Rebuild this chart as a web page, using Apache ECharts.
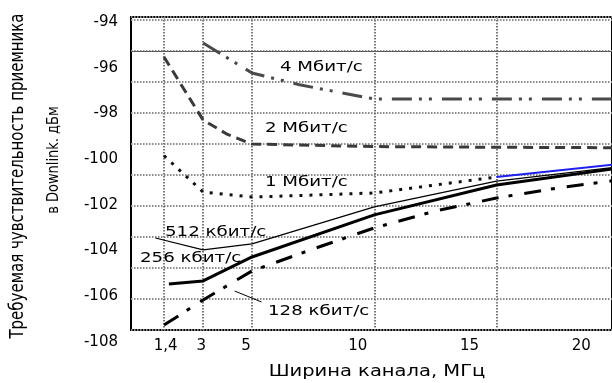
<!DOCTYPE html>
<html>
<head>
<meta charset="utf-8">
<script src="https://cdn.jsdelivr.net/npm/echarts@6/dist/echarts.min.js"></script>
<style>html,body{margin:0;padding:0;background:#fff}#c{width:612px;height:383px}</style>
</head>
<body>
<div id="c"></div>
<script>
// ---- data (bandwidth, MHz  /  required sensitivity, dBm) ----
const bw4Mbit = [3, 5, 7, 10, 15, 20];
const sens4Mbit = [-94.92, -96.23, -96.76, -97.37, -97.37, -97.37];

const bw2Mbit = [1.4, 3, 4, 5, 10, 15, 20];
const sens2Mbit = [-95.53, -98.29, -98.92, -99.34, -99.45, -99.48, -99.5];

const bw1Mbit = [1.4, 3, 5, 10, 15];
const sens1Mbit = [-99.85, -101.44, -101.66, -101.48, -100.78];
const bw1MbitTail = [15, 20];
const sens1MbitTail = [-100.78, -100.21];

const bw512 = [1.05, 3, 5, 10, 15, 20];
const sens512 = [-103.45, -103.97, -103.71, -102.09, -100.96, -100.34];

const bw256 = [1.6, 3, 5, 10, 15, 20];
const sens256 = [-105.46, -105.33, -104.28, -102.44, -101.13, -100.39];

const bw128 = [1.4, 3, 5, 7.5, 10, 12.5, 15, 17.5, 20];
const sens128 = [-107.26, -106.16, -104.89, -103.93, -103.01, -102.27, -101.7, -101.26, -100.91];

const leader128X = [4.29, 5.39];
const leader128Y = [-105.77, -106.25];

const gridBandwidths = [1.4, 3, 5, 10, 15];
const xTickValues = [1.4, 3, 5, 10, 15, 20];
const yTickMin = -108, yTickMax = -94, yTickStep = 2;

const curveLabels = ['4 Мбит/с', '2 Мбит/с', '1 Мбит/с', '512 кбит/с', '256 кбит/с', '128 кбит/с'];
const yTitle1 = 'Требуемая чувствительность приемника';
const yTitle2 = 'в Downlink. дБм';
const xTitle = 'Ширина канала, МГц';

const zip = (xs, ys) => xs.map((x, i) => [x, ys[i]]);

const FONT = '"DejaVu Sans", Verdana, sans-serif';
const chart = echarts.init(document.getElementById('c'), null, {renderer: 'canvas'});

function lineSeries(name, xs, ys, style, z) {
  return {
    name, type: 'line', xAxisIndex: 2, yAxisIndex: 1,
    data: zip(xs, ys), symbol: 'none', smooth: false, silent: true, z: z || 5,
    lineStyle: Object.assign({cap: 'butt'}, style), animation: false
  };
}

const textEl = (text, x, y, size, sx) => ({
  type: 'text', x, y, scaleX: sx, silent: true, z: 100,
  style: {text, font: size + 'px ' + FONT, fill: '#000', align: 'left', verticalAlign: 'middle'}
});

chart.setOption({
  animation: false,
  backgroundColor: '#fff',
  grid: [
    {left: 131, right: -2, top: 17, height: 313, show: true, borderColor: '#000', borderWidth: 2, backgroundColor: 'transparent'},
    {left: 131, right: -2, top: 22, height: 320, show: false}
  ],
  xAxis: [
    { // vertical grid lines (data scale)
      gridIndex: 0, type: 'value', min: 0.05, max: 19.724,
      axisLine: {show: false}, axisLabel: {show: false},
      axisTick: {show: false, customValues: gridBandwidths},
      splitLine: {show: true, lineStyle: {color: '#7a7a7a', width: 2, type: [1.5, 1.5]}}
    },
    { // tick labels as printed
      gridIndex: 0, type: 'value', position: 'bottom', min: -0.147, max: 21.37,
      axisLine: {show: false}, axisTick: {show: false}, splitLine: {show: false},
      axisLabel: {show: true, customValues: xTickValues, margin: 9, color: '#000',
        fontFamily: FONT, fontSize: 15,
        formatter: v => String(v).replace('.', ',')}
    },
    { // data axis
      gridIndex: 1, type: 'value', min: 0.05, max: 19.724, show: false
    }
  ],
  yAxis: [
    { // horizontal grid lines
      gridIndex: 0, type: 'value', min: 0, max: 10.1, interval: 1,
      axisLine: {show: false}, axisLabel: {show: false}, axisTick: {show: false},
      splitLine: {show: true, lineStyle: {color: '#8a8a8a', width: 2, type: [1.5, 1.5]}}
    },
    { // sensitivity scale with labels
      gridIndex: 1, type: 'value', min: yTickMin, max: yTickMax, interval: yTickStep,
      axisLine: {show: false}, axisTick: {show: false}, splitLine: {show: false},
      axisLabel: {show: true, margin: 13, color: '#000', fontFamily: FONT, fontSize: 15}
    }
  ],
  series: [
    { type: 'line', xAxisIndex: 0, yAxisIndex: 0, data: [], symbol: 'none', silent: true,
      markLine: {silent: true, symbol: 'none', label: {show: false},
        lineStyle: {type: 'solid', color: '#5a5a5a', width: 1.2},
        data: [{yAxis: 9}]}
    },
    lineSeries('4 Мбит/с', bw4Mbit, sens4Mbit, {color: '#4a4a4a', width: 3, type: [20, 7, 3, 7, 3, 10]}),
    lineSeries('2 Мбит/с', bw2Mbit, sens2Mbit, {color: '#3a3a3a', width: 3, type: [10, 6]}),
    lineSeries('1 Мбит/с', bw1Mbit, sens1Mbit, {color: '#111', width: 3, type: [3, 7]}),
    lineSeries('1 Мбит/с (tail)', bw1MbitTail, sens1MbitTail, {color: '#2020ee', width: 2, type: 'solid'}, 4),
    lineSeries('512 кбит/с', bw512, sens512, {color: '#000', width: 1.2, type: 'solid'}),
    lineSeries('256 кбит/с', bw256, sens256, {color: '#000', width: 3, type: 'solid'}),
    lineSeries('128 кбит/с', bw128, sens128, {color: '#000', width: 3, type: [17, 10, 4, 12]}),
    lineSeries('leader', leader128X, leader128Y, {color: '#000', width: 1, type: 'solid'})
  ],
  graphic: [
    textEl(curveLabels[0], 280, 67, 14, 1.3),
    textEl(curveLabels[1], 265, 128, 14, 1.3),
    textEl(curveLabels[2], 265, 182, 14, 1.3),
    textEl(curveLabels[3], 165, 232, 14, 1.3),
    textEl(curveLabels[4], 140, 258, 14, 1.3),
    textEl(curveLabels[5], 268, 311, 14, 1.3),
    {type: 'text', x: 377, y: 372, scaleX: 1.3, silent: true,
      style: {text: xTitle, font: '15px ' + FONT, fill: '#000', align: 'center', verticalAlign: 'middle'}},
    {type: 'text', x: 18, y: 176, rotation: Math.PI / 2, scaleY: 1.25, silent: true,
      style: {text: yTitle1, font: '15px ' + FONT, fill: '#000', align: 'center', verticalAlign: 'middle'}},
    {type: 'text', x: 54, y: 160, rotation: Math.PI / 2, scaleY: 1.25, silent: true,
      style: {text: yTitle2, font: '13px ' + FONT, fill: '#000', align: 'center', verticalAlign: 'middle'}}
  ]
});
</script>
</body>
</html>
